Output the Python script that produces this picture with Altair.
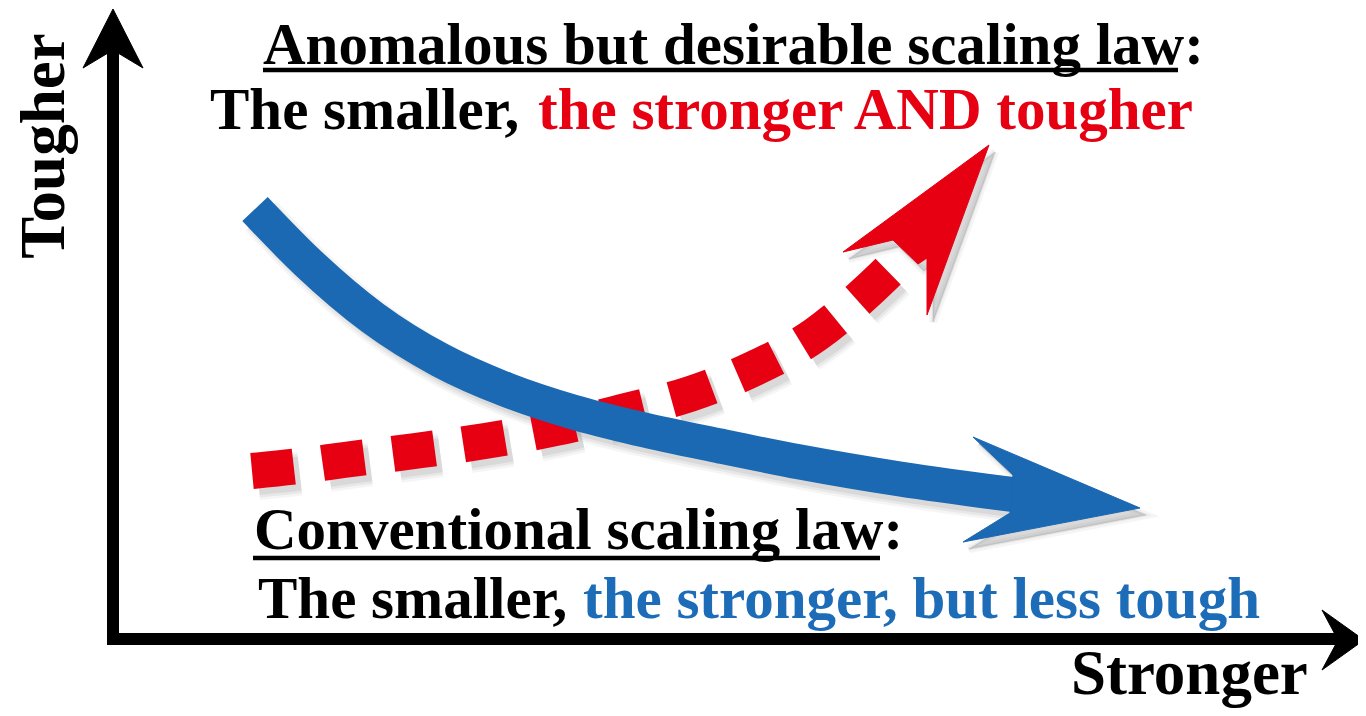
import altair as alt
import pandas as pd

# ---- data (reference pixel coordinates of the conceptual diagram) ----
# conventional scaling law curve (blue, solid)
blue_x = [255, 307, 373, 440, 507, 573, 640, 720, 800, 900, 1016]
blue_y = [209, 262, 318, 360, 390, 412, 429, 446, 462, 479, 495]
blue_head_x = [1013, 973, 1140, 963, 1010]
blue_head_y = [475, 437, 508, 542, 513]

# anomalous scaling law curve (red, dashed)
red_x = [252, 300, 344, 415, 485, 556, 622, 690, 755, 815, 871, 902]
red_y = [471, 466, 460, 451, 441, 428, 412, 394, 368, 335, 288, 258]
red_head_x = [989, 843, 893, 918, 927, 927]
red_head_y = [145, 252, 240, 264, 258, 315]

# axes
yaxis_x = [113, 113]
yaxis_y = [645, 50]
yhead_x = [113, 83, 113, 143]
yhead_y = [9, 68, 50, 68]
xaxis_x = [107, 1340]
xaxis_y = [639, 639]
xhead_x = [1364, 1322, 1338, 1322]
xhead_y = [640, 610, 640, 670]

# texts
seg_text = ["Anomalous but desirable scaling law:", "The smaller, ",
            "the stronger AND tougher", "Conventional scaling law:",
            "The smaller, ", "the stronger, but less tough"]
seg_x = [263, 210, 538, 254, 258, 583]
seg_y = [64, 129, 129, 549, 618, 618]
seg_col = ["#000000", "#000000", "#e60012", "#000000", "#000000", "#1d6cb8"]

under_x = [263, 253]
under_x2 = [1178, 880]
under_y = [70, 558]

RED = "#e60012"
BLUE = "#1b68b3"

xs = alt.Scale(domain=[8, 1358], nice=False, zero=False)
ys = alt.Scale(domain=[8, 708], nice=False, zero=False, reverse=True)


def enc(ch, xf="x", yf="y"):
    return ch.encode(
        x=alt.X(f"{xf}:Q", scale=xs, axis=None),
        y=alt.Y(f"{yf}:Q", scale=ys, axis=None),
        order=alt.Order("i:Q"),
    )


def df(xv, yv):
    return pd.DataFrame({"x": xv, "y": yv, "i": list(range(len(xv)))})


def shadow(base, width, dash=None, fill=False, interp="linear"):
    layers = []
    for w, op in [(width + 8, 0.06), (width + 3, 0.08), (width - 2, 0.1)]:
        kw = dict(stroke="#555555", strokeWidth=w, strokeOpacity=op,
                  interpolate=interp, strokeCap="butt")
        if dash:
            kw["strokeDash"] = dash
        if fill:
            kw.update(fill="#555555", fillOpacity=op, strokeWidth=max(w - width, 1))
        c = alt.Chart(base).mark_line(**kw).transform_calculate(
            sx="datum.x + 6", sy="datum.y + 7")
        layers.append(enc(c, "sx", "sy"))
    return layers


blue_df = df(blue_x, blue_y)
blue_head_df = df(blue_head_x + [blue_head_x[0]], blue_head_y + [blue_head_y[0]])
red_df = df(red_x, red_y)
red_head_df = df(red_head_x + [red_head_x[0]], red_head_y + [red_head_y[0]])

layers = []
# shadows
layers += shadow(red_df, 36, dash=[42, 29], interp="monotone")
layers += shadow(red_head_df, 0, fill=True)
layers += shadow(blue_df, 35, interp="monotone")
layers += shadow(blue_head_df, 0, fill=True)

# red dashed curve + head
layers.append(enc(alt.Chart(red_df).mark_line(
    stroke=RED, strokeWidth=36, strokeDash=[42, 29], strokeCap="butt",
    interpolate="monotone")))
layers.append(enc(alt.Chart(red_head_df).mark_line(
    stroke=RED, fill=RED, strokeWidth=1)))

# blue solid curve + head
layers.append(enc(alt.Chart(blue_df).mark_line(
    stroke=BLUE, strokeWidth=35, strokeCap="butt", interpolate="monotone")))
layers.append(enc(alt.Chart(blue_head_df).mark_line(
    stroke=BLUE, fill=BLUE, strokeWidth=1)))

# axes
layers.append(enc(alt.Chart(df(yaxis_x, yaxis_y)).mark_line(
    stroke="black", strokeWidth=12, strokeCap="butt")))
layers.append(enc(alt.Chart(df(xaxis_x, xaxis_y)).mark_line(
    stroke="black", strokeWidth=12, strokeCap="butt")))
layers.append(enc(alt.Chart(df(yhead_x + [yhead_x[0]], yhead_y + [yhead_y[0]])).mark_line(
    stroke="black", fill="black", strokeWidth=1)))
layers.append(enc(alt.Chart(df(xhead_x + [xhead_x[0]], xhead_y + [xhead_y[0]])).mark_line(
    stroke="black", fill="black", strokeWidth=1)))

# underlines
und = pd.DataFrame({"x": under_x, "x2": under_x2, "y": under_y})
layers.append(alt.Chart(und).mark_rule(color="black", strokeWidth=4.5).encode(
    x=alt.X("x:Q", scale=xs, axis=None), x2="x2:Q",
    y=alt.Y("y:Q", scale=ys, axis=None)))

# text segments
txt = pd.DataFrame({"t": seg_text, "x": seg_x, "y": seg_y, "c": seg_col})
layers.append(alt.Chart(txt).mark_text(
    font="Liberation Serif", fontWeight="bold", fontSize=59,
    align="left", baseline="alphabetic").encode(
    x=alt.X("x:Q", scale=xs, axis=None),
    y=alt.Y("y:Q", scale=ys, axis=None),
    text="t:N", color=alt.Color("c:N", scale=None)))

# axis labels
lab = pd.DataFrame({"t": ["Stronger"], "x": [1071], "y": [694]})
layers.append(alt.Chart(lab).mark_text(
    font="Liberation Serif", fontWeight="bold", fontSize=63,
    align="left", baseline="alphabetic", color="black").encode(
    x=alt.X("x:Q", scale=xs, axis=None),
    y=alt.Y("y:Q", scale=ys, axis=None), text="t:N"))
lab2 = pd.DataFrame({"t": ["Tougher"], "x": [64], "y": [146]})
layers.append(alt.Chart(lab2).mark_text(
    font="Liberation Serif", fontWeight="bold", fontSize=63, angle=270,
    align="center", baseline="alphabetic", color="black").encode(
    x=alt.X("x:Q", scale=xs, axis=None),
    y=alt.Y("y:Q", scale=ys, axis=None), text="t:N"))

chart = alt.layer(*layers).properties(
    width=1350, height=700, padding=0,
    autosize=alt.AutoSizeParams(type="none"),
    background="white",
).configure_view(stroke=None)

chart.save("out.html", embed_options={"renderer": "svg", "actions": False})
